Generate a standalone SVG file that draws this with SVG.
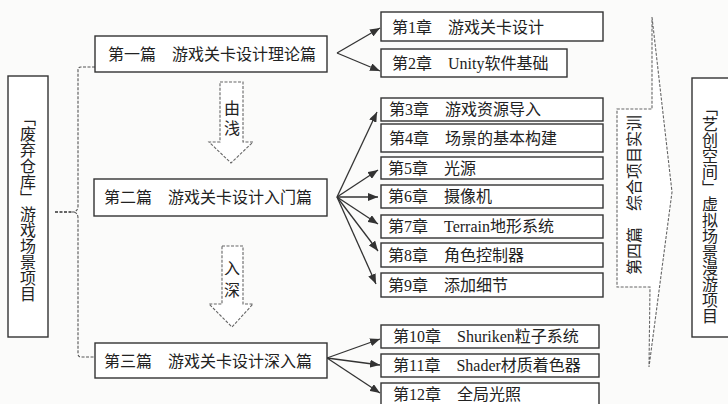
<svg xmlns="http://www.w3.org/2000/svg" width="728" height="404" viewBox="0 0 728 404">
<defs>
<style>
.box{fill:#fff;stroke:#333;stroke-width:1.4}
.t{font-family:"Liberation Serif","Noto Sans CJK SC",serif;font-size:16px;fill:#222;dominant-baseline:central}
.v{font-family:"Noto Sans CJK SC",sans-serif;font-size:16px;fill:#222;writing-mode:vertical-rl;text-anchor:middle}
.dash{fill:#fff;stroke:#666;stroke-width:1.1;stroke-dasharray:3 1.5}
.con{fill:none;stroke:#333;stroke-width:1.3}
</style>
<marker id="ah" markerUnits="userSpaceOnUse" markerWidth="10" markerHeight="8" refX="10" refY="4" orient="auto">
<path d="M0,0 L10,4 L0,8 z" fill="#333"/>
</marker>
</defs>
<rect width="728" height="404" fill="#fbfbfa"/>

<g id="connectors">
<path class="con" d="M55,212 L72,212" stroke-dasharray="3 1.5" stroke="#555"/>
<path d="M95,67 L81,67 Q78,67 78,70 L78,206 Q78,212 72,212 Q78,212 78,218 L78,354 Q78,357 81,357 L95,357" fill="none" stroke="#555" stroke-width="1.1" stroke-dasharray="3 1.5"/>
<g class="con" marker-end="url(#ah)">
<path d="M337,53 L380,28"/>
<path d="M337,53 L380,71"/>
<path d="M337,197 L377,112"/>
<path d="M337,197 L378,170"/>
<path d="M337,197 L378,197"/>
<path d="M337,197 L378,224"/>
<path d="M337,197 L378,251"/>
<path d="M337,197 L376,284"/>
<path d="M327,358 L380,339"/>
<path d="M327,358 L380,365"/>
<path d="M327,358 L380,393"/>
</g>
</g>

<g id="arrow-shallow">
<polygon class="dash" points="220,82 243,82 243,142 253,142 231,163 209,142 220,142"/>
<text class="t" x="232" y="108" text-anchor="middle">由</text>
<text class="t" x="232" y="128" text-anchor="middle">浅</text>
</g>
<g id="arrow-deep">
<polygon class="dash" points="222,246 243,246 243,304 253,304 232,327 209,304 222,304"/>
<text class="t" x="232" y="268" text-anchor="middle">入</text>
<text class="t" x="232" y="290" text-anchor="middle">深</text>
</g>

<g id="project1">
<rect class="box" x="8" y="76" width="40" height="261"/>
<text class="v" x="28" y="206">「废弃仓库」游戏场景项目</text>
</g>

<g id="part1">
<rect class="box" x="95" y="36" width="232" height="36"/>
<text class="t" x="108" y="54">第一篇　游戏关卡设计理论篇</text>
</g>
<g id="part2">
<rect class="box" x="94" y="179" width="233" height="37"/>
<text class="t" x="104" y="197">第二篇　游戏关卡设计入门篇</text>
</g>
<g id="part3">
<rect class="box" x="95" y="343" width="232" height="35"/>
<text class="t" x="104" y="361">第三篇　游戏关卡设计深入篇</text>
</g>

<g id="ch1"><rect class="box" x="381" y="12" width="222" height="29"/><text class="t" x="392" y="27">第1章　游戏关卡设计</text></g>
<g id="ch2"><rect class="box" x="381" y="49" width="186" height="28"/><text class="t" x="392" y="63">第2章　Unity软件基础</text></g>
<g id="ch3"><rect class="box" x="381" y="98" width="222" height="23"/><text class="t" x="389" y="109">第3章　游戏资源导入</text></g>
<g id="ch4"><rect class="box" x="381" y="124" width="222" height="28"/><text class="t" x="389" y="138">第4章　场景的基本构建</text></g>
<g id="ch5"><rect class="box" x="381" y="157" width="222" height="22"/><text class="t" x="388" y="168">第5章　光源</text></g>
<g id="ch6"><rect class="box" x="381" y="185" width="222" height="23"/><text class="t" x="388" y="196.5">第6章　摄像机</text></g>
<g id="ch7"><rect class="box" x="381" y="215" width="222" height="23"/><text class="t" x="388" y="226.5">第7章　Terrain地形系统</text></g>
<g id="ch8"><rect class="box" x="381" y="243" width="222" height="24"/><text class="t" x="388" y="255">第8章　角色控制器</text></g>
<g id="ch9"><rect class="box" x="381" y="273" width="222" height="24"/><text class="t" x="388" y="285">第9章　添加细节</text></g>
<g id="ch10"><rect class="box" x="381" y="325" width="218" height="23"/><text class="t" x="393" y="336.5">第10章　Shuriken粒子系统</text></g>
<g id="ch11"><rect class="box" x="381" y="354" width="218" height="23"/><text class="t" x="393" y="365.5">第11章　Shader材质着色器</text></g>
<g id="ch12"><rect class="box" x="381" y="383" width="218" height="24"/><text class="t" x="393" y="394">第12章　全局光照</text></g>

<g id="part4">
<path class="dash" d="M652,17 L672,192 L649,367 L650,287 L617,287 L617,109 L652,109 Z"/>
<text class="t" x="633" y="195" text-anchor="middle" transform="rotate(-90 633 195)" font-family="Noto Sans CJK SC,sans-serif" style="font-family:'Noto Sans CJK SC',sans-serif">第四篇　综合项目实训</text>
</g>

<g id="project2">
<rect class="box" x="692" y="78" width="40" height="259"/>
<text class="v" x="710" y="212">「艺创空间」虚拟场景漫游项目</text>
</g>
</svg>
